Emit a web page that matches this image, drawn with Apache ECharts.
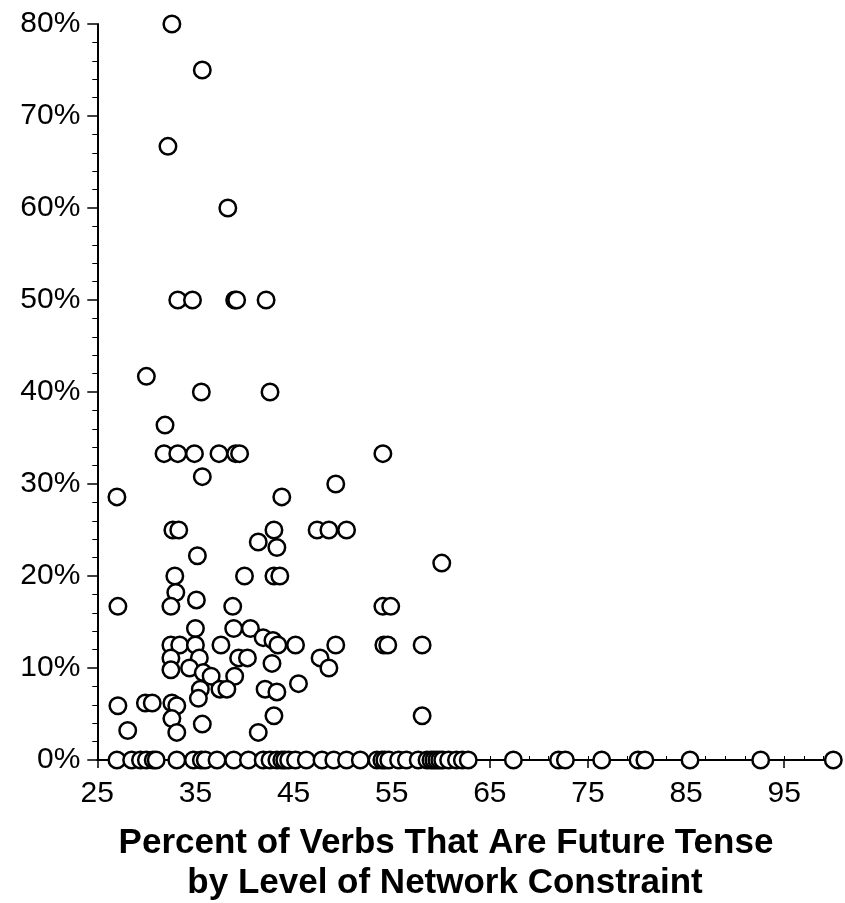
<!DOCTYPE html>
<html>
<head>
<meta charset="utf-8">
<script src="https://cdn.jsdelivr.net/npm/echarts@6/dist/echarts.min.js"></script>
<style>
html,body{margin:0;padding:0;background:#fff;}
#chart{width:845px;height:903px;}
</style>
</head>
<body>
<div id="chart"></div>
<script>
// Network constraint (x) and percent of verbs in future tense (y, %) for points above 0%
const constraintX = [
  32.6, 35.7, 32.2, 38.3,
  33.2, 34.7, 39.0, 39.2, 42.2,
  30.0, 35.6, 42.6, 31.9,
  31.8, 33.2, 34.9, 37.4, 39.1, 39.5, 54.1,
  35.7, 49.3, 27.0, 43.8,
  32.7, 33.3, 43.0, 47.4, 48.6, 50.4,
  41.4, 43.3, 35.2, 60.1,
  32.9, 40.0, 43.0, 43.6,
  33.0, 27.1, 32.5, 35.1, 38.8, 54.1, 54.9,
  35.0, 38.9, 40.6, 41.9, 42.9,
  32.5, 33.4, 35.0, 37.6, 43.4, 45.2, 49.3, 54.2, 54.6, 58.1,
  32.5, 35.4, 39.4, 40.3, 47.7,
  42.8, 48.6, 32.5, 34.4, 35.8,
  36.6, 39.0, 35.5, 35.3,
  37.5, 38.2, 42.1, 43.3, 45.5,
  58.1, 27.1, 29.9, 30.6, 32.6, 33.1,
  32.6, 43.0, 28.1, 33.1, 35.7, 41.4
];
const futurePct = [
  80, 75, 66.7, 60,
  50, 50, 50, 50, 50,
  41.7, 40, 40, 36.4,
  33.3, 33.3, 33.3, 33.3, 33.3, 33.3, 33.3,
  30.8, 30, 28.6, 28.6,
  25, 25, 25, 25, 25, 25,
  23.7, 23.1, 22.2, 21.4,
  20, 20, 20, 20,
  18.2, 16.7, 16.7, 17.4, 16.7, 16.7, 16.7,
  14.3, 14.3, 14.3, 13.3, 13.0,
  12.5, 12.5, 12.5, 12.5, 12.5, 12.5, 12.5, 12.5, 12.5, 12.5,
  11.1, 11.1, 11.1, 11.1, 11.1,
  10.5, 10, 9.8, 10, 9.5,
  9.1, 9.1, 7.7, 6.7,
  7.7, 7.7, 7.7, 7.4, 8.3,
  4.8, 5.9, 6.2, 6.2, 6.2, 5.9,
  4.5, 4.8, 3.2, 3.0, 3.9, 3.0
];
// Network constraint of points with 0% future tense
const zeroRowX = [
  27.0, 28.5, 29.4, 30.0, 30.7, 31.0, 33.1, 34.8, 35.6, 36.0, 37.2, 38.9, 40.4,
  41.9, 42.6, 43.3, 43.8, 44.1, 44.5, 45.2, 46.3, 47.9, 49.1, 50.4, 51.8,
  53.5, 54.0, 54.3, 54.7, 55.7, 56.5, 57.7, 58.6, 59.0, 59.3, 59.6, 59.9, 60.2,
  60.8, 61.6, 62.2, 62.8, 67.4, 72.0, 72.7, 76.4, 80.1, 80.8, 85.4, 92.6, 100.0
];
const xTickStart = 25, xTickEnd = 100, xTickStep = 10, xMinorStep = 2;
const yTickStart = 0, yTickEnd = 80, yTickStep = 10;
const titleLines = ['Percent of Verbs That Are Future Tense', 'by Level of Network Constraint'];

const points = constraintX.map((x, i) => [x, futurePct[i]]).concat(zeroRowX.map(x => [x, 0]));

const chart = echarts.init(document.getElementById('chart'), null, {renderer: 'canvas'});
const FONT = '"Liberation Sans", Arial, Helvetica, sans-serif';
chart.setOption({
  animation: false,
  backgroundColor: '#fff',
  grid: {left: 97.3, right: 11.7, top: 24, bottom: 143, containLabel: false},
  xAxis: [{
    type: 'value', min: xTickStart, max: xTickEnd, interval: xTickStep, position: 'bottom',
    axisLine: {show: true, onZero: false, lineStyle: {color: '#000', width: 2}},
    axisTick: {show: true, inside: false, length: 8, lineStyle: {color: '#000', width: 1.5}},
    axisLabel: {show: true, margin: 19, color: '#000', fontSize: 30, fontFamily: FONT, showMaxLabel: false},
    splitLine: {show: false}
  }, {
    type: 'value', min: xTickStart, max: xTickEnd, interval: xMinorStep, position: 'bottom',
    axisLine: {show: false, onZero: false},
    axisTick: {show: true, inside: true, length: 4, lineStyle: {color: '#000', width: 1}},
    axisLabel: {show: false},
    splitLine: {show: false}
  }],
  yAxis: {
    type: 'value', min: yTickStart, max: yTickEnd, interval: yTickStep,
    axisLine: {show: true, onZero: false, lineStyle: {color: '#000', width: 2}},
    axisTick: {show: true, inside: false, length: 10, lineStyle: {color: '#000', width: 1.5}},
    minorTick: {show: true, splitNumber: 5, length: 5, lineStyle: {color: '#000', width: 1}},
    axisLabel: {show: true, margin: 17, color: '#000', fontSize: 30, fontFamily: FONT, formatter: '{value}%'},
    splitLine: {show: false}
  },
  series: [{
    type: 'scatter', xAxisIndex: 0, yAxisIndex: 0,
    data: points,
    symbol: 'circle', symbolSize: 16.5,
    itemStyle: {color: '#fff', borderColor: '#000', borderWidth: 2.5, opacity: 1},
    z: 5
  }],
  graphic: [{
    type: 'text', x: 446, y: 843,
    style: {text: titleLines[0], align: 'center', verticalAlign: 'middle', font: 'bold 35px ' + FONT, fill: '#000'}
  }, {
    type: 'text', x: 445, y: 883,
    style: {text: titleLines[1], align: 'center', verticalAlign: 'middle', font: 'bold 35px ' + FONT, fill: '#000'}
  }]
});
</script>
</body>
</html>
